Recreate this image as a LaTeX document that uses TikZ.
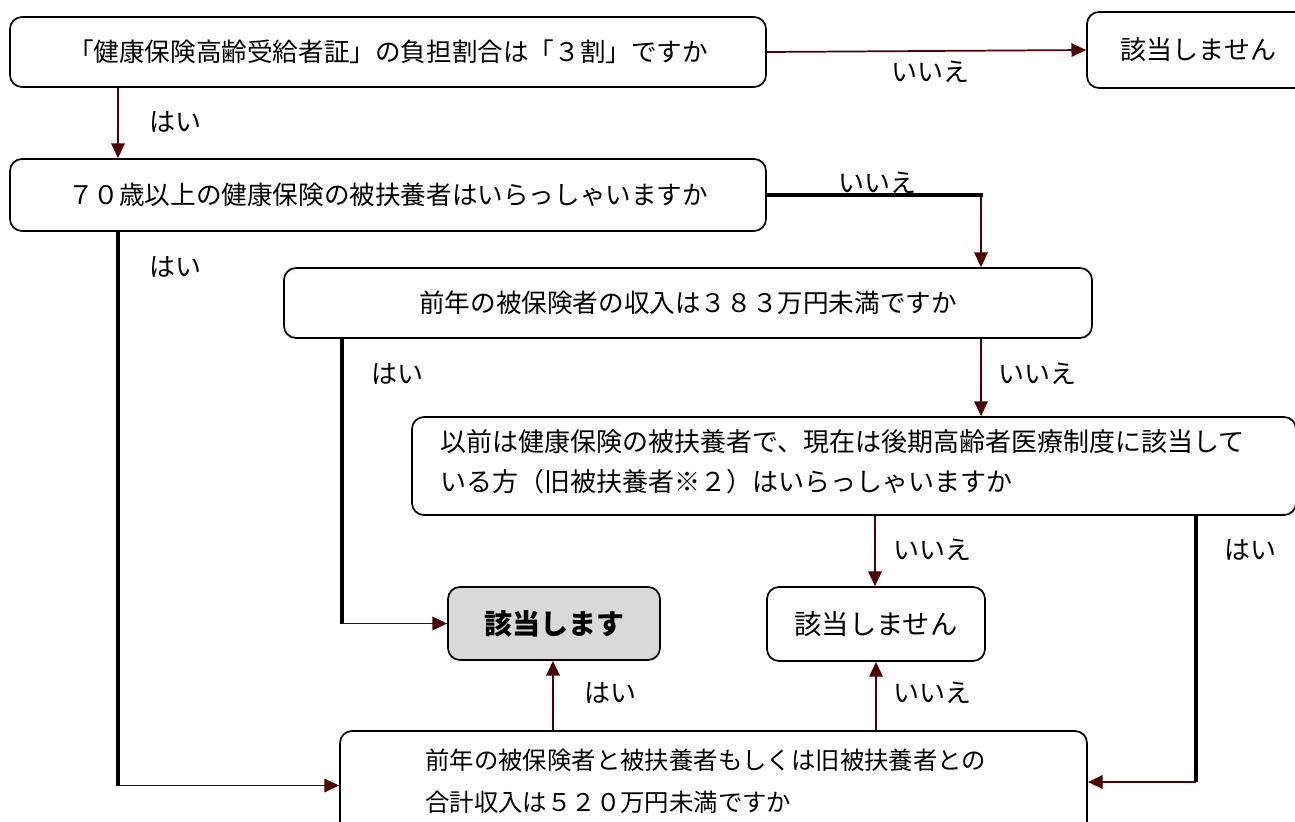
\documentclass[tikz,border=0pt]{standalone}
\usepackage{fontspec}
\setmainfont{Noto Sans CJK JP}
\usetikzlibrary{arrows.meta}
\definecolor{arr}{RGB}{80,0,0}
\definecolor{gbox}{RGB}{217,217,217}
\begin{document}
\begin{tikzpicture}[x=0.75pt,y=-0.75pt,
  box/.style={draw=black,line width=1.3pt,rounded corners=9pt,inner sep=0pt,align=center,font=\fontsize{19.2pt}{23pt}\selectfont},
  lbl/.style={inner sep=0pt,font=\fontsize{19.5pt}{23pt}\selectfont},
  ra/.style={draw=arr,line width=1.3pt,-{Triangle[length=11pt,width=10pt]}},
  bl/.style={draw=black,line width=2.5pt}]
\useasboundingbox (0,0) rectangle (1295,821);
\clip (0,0) rectangle (1295,821);
% boxes
\node[box,minimum width=567pt,minimum height=52.5pt] (b1) at (388,52) {「健康保険高齢受給者証」の負担割合は「３割」ですか};
\node[box,minimum width=167.25pt,minimum height=57pt,font=\fontsize{19.5pt}{23pt}\selectfont] (r1) at (1198.5,50) {該当しません};
\node[box,minimum width=567pt,minimum height=54pt] (b2) at (388,195) {７０歳以上の健康保険の被扶養者はいらっしゃいますか};
\node[box,minimum width=606pt,minimum height=52.5pt] (b3) at (688,303) {前年の被保険者の収入は３８３万円未満ですか};
\node[box,minimum width=663pt,minimum height=73.5pt] (b4) at (854,466) {};
\node[inner sep=0pt,anchor=west,align=left,font=\fontsize{19.5pt}{30pt}\selectfont] (t4) at (440,462) {以前は健康保険の被扶養者で、現在は後期高齢者医療制度に該当して\\いる方（旧被扶養者※２）はいらっしゃいますか};
\node[box,fill=gbox,minimum width=159pt,minimum height=54.75pt,font=\fontsize{21pt}{24pt}\selectfont\bfseries] (g1) at (554,623.5) {該当します};
\node[box,minimum width=163.5pt,minimum height=55.5pt,font=\fontsize{20.5pt}{24pt}\selectfont] (n2) at (876,624) {該当しません};
\node[box,minimum width=560.25pt,minimum height=81.75pt] (b5) at (713.5,785.5) {};
\node[inner sep=0pt,anchor=west,align=left,font=\fontsize{18.3pt}{31.5pt}\selectfont] (t5) at (425,781) {前年の被保険者と被扶養者もしくは旧被扶養者との\\合計収入は５２０万円未満ですか};
% helper coordinates
\coordinate (x118) at (118,0);
\coordinate (x342) at (342,0);
\coordinate (x553) at (553,0);
\coordinate (x876) at (876,0);
\coordinate (x875) at (875,0);
\coordinate (x981) at (981,0);
\coordinate (x1196) at (1196,0);
\coordinate (k1) at (983,195);
\coordinate (k2) at (118,785.5);
\coordinate (k3) at (342,623.5);
\coordinate (k4) at (1196,782);
% connectors
\draw[ra] (b1.east) -- (r1.west);
\draw[ra] (b1.south -| x118) -- (b2.north -| x118);
\draw[bl] (b2.east) -- (k1);
\draw[ra] (k1 -| x981) -- (b3.north -| x981);
\draw[bl] (b2.south -| x118) -- (k2);
\draw[ra] (k2) -- (b5.west);
\draw[bl] (b3.south -| x342) -- (k3);
\draw[ra] (k3) -- (g1.west);
\draw[ra] (b3.south -| x981) -- (b4.north -| x981);
\draw[ra] (b4.south -| x875) -- (n2.north -| x875);
\draw[bl] (b4.south -| x1196) -- (k4);
\draw[ra] (k4) -- (b5.east |- k4);
\draw[ra] (b5.north -| x553) -- (g1.south -| x553);
\draw[ra] (b5.north -| x876) -- (n2.south -| x876);
% labels
\node[lbl] (l1) at (930,72) {いいえ};
\node[lbl] (l2) at (175,122) {はい};
\node[lbl] (l3) at (877,183) {いいえ};
\node[lbl] (l4) at (175,267) {はい};
\node[lbl] (l5) at (397,374) {はい};
\node[lbl] (l6) at (1037,374) {いいえ};
\node[lbl] (l7) at (932,550) {いいえ};
\node[lbl] (l8) at (1250,550) {はい};
\node[lbl] (l9) at (610,693) {はい};
\node[lbl] (l10) at (932,693) {いいえ};
\end{tikzpicture}
\end{document}
